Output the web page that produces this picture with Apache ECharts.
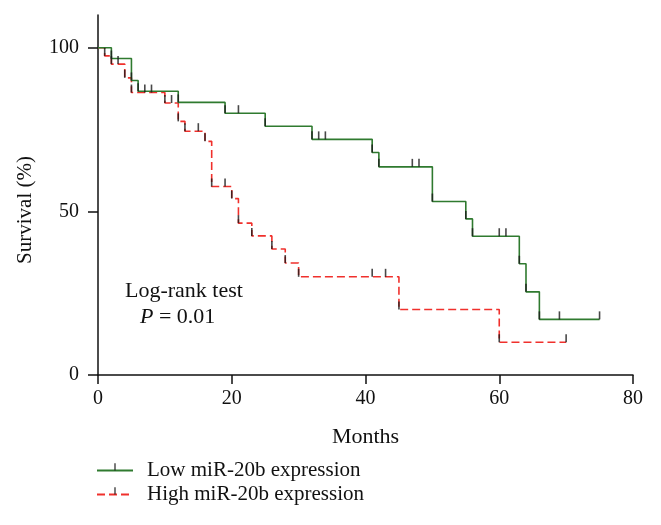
<!DOCTYPE html>
<html>
<head>
<meta charset="utf-8">
<script src="https://cdn.jsdelivr.net/npm/echarts@6/dist/echarts.min.js"></script>
<style>
html,body{margin:0;padding:0;background:#fff;}
#chart{width:661px;height:525px;}
</style>
</head>
<body>
<div id="chart"></div>
<script>
// ---- data ----
const lowName = 'Low miR-20b expression';
const highName = 'High miR-20b expression';
const lowTimes = [0, 2, 5, 6, 12, 19, 25, 32, 41, 42, 50, 55, 56, 63, 64, 66, 75];
const lowSurv  = [100, 96.7, 90.0, 86.7, 83.3, 80.0, 76.0, 72.0, 68.0, 63.6, 53.0, 47.7, 42.4, 34.0, 25.4, 17.0, 17.0];
const lowCensor = [21, 33, 34, 47, 48, 60, 61, 69, 75];
const highTimes = [0, 1, 2, 4, 5, 10, 12, 13, 16, 17, 20, 21, 23, 26, 28, 30, 45, 60, 70];
const highSurv  = [100, 97.5, 95.0, 90.8, 86.3, 83.1, 77.5, 74.5, 71.4, 57.6, 53.9, 46.4, 42.5, 38.5, 34.2, 30.0, 20.0, 10.0, 10.0];
const highCensor = [3, 7, 8, 11, 15, 19, 41, 43, 70];
const xTicks = [0, 20, 40, 60, 80];
const yTicks = [0, 50, 100];

const FONT = 'Liberation Serif';
const GREEN = '#2f7a2f';
const RED = '#f0302c';
const TICKC = '#1a1a1a';

function levelAt(times, surv, t) {
  let v = surv[0];
  for (let i = 0; i < times.length; i++) { if (times[i] <= t) v = surv[i]; }
  return v;
}
function eventMarks(times, surv, censor) {
  const ev = times.slice(1, times.length - 1).concat(censor);
  return ev.map(t => [t, levelAt(times, surv, t)]);
}
const lowLine = lowTimes.map((t, i) => [t, lowSurv[i]]);
const highLine = highTimes.map((t, i) => [t, highSurv[i]]);
const tickPath = 'path://M4.6,0h0.8v5h-0.8zM0,0h0.01v0.01zM10,10h-0.01v-0.01z';

const chart = echarts.init(document.getElementById('chart'), null, {renderer: 'canvas'});
chart.setOption({
  animation: false,
  backgroundColor: '#fff',
  textStyle: {fontFamily: FONT},
  grid: {left: 98, right: 28, top: 15, bottom: 150},
  xAxis: {
    type: 'value', min: 0, max: 80, interval: 20,
    name: 'Months', nameLocation: 'middle', nameGap: 51,
    nameTextStyle: {fontFamily: FONT, fontSize: 22, color: '#111'},
    axisLine: {lineStyle: {color: '#111', width: 1.5}},
    axisTick: {show: true, length: 9, inside: false, lineStyle: {color: '#111', width: 1.5}, customValues: xTicks},
    axisLabel: {fontFamily: FONT, fontSize: 20, color: '#111', margin: 14, customValues: xTicks},
    splitLine: {show: false}
  },
  yAxis: {
    type: 'value', min: 0, max: 110,
    axisLine: {show: true, lineStyle: {color: '#111', width: 1.5}},
    axisTick: {show: true, length: 10, lineStyle: {color: '#111', width: 1.5}, customValues: yTicks},
    axisLabel: {fontFamily: FONT, fontSize: 20, color: '#111', margin: 19, customValues: yTicks},
    splitLine: {show: false}
  },
  legend: {
    data: [lowName, highName],
    orient: 'vertical', left: 91, top: 455,
    itemWidth: 36, itemHeight: 18, itemGap: 3,
    textStyle: {fontFamily: FONT, fontSize: 21, color: '#111', padding: [0, 0, 0, 9]}
  },
  graphic: [
    {type: 'text', x: 25, y: 210, rotation: Math.PI / 2,
      style: {text: 'Survival (%)', fontFamily: FONT, fontSize: 21, fill: '#111', align: 'center', verticalAlign: 'middle'}},
    {type: 'text', left: 125, top: 280, style: {text: 'Log-rank test', fontFamily: FONT, fontSize: 22, fill: '#111'}},
    {type: 'text', left: 140, top: 306, style: {text: '{i|P} = 0.01', fontFamily: FONT, fontSize: 22, fill: '#111',
      rich: {i: {fontStyle: 'italic', fontFamily: FONT, fontSize: 22, fill: '#111'}}}}
  ],
  series: [
    {
      name: lowName, type: 'line', step: 'end', data: lowLine,
      showSymbol: false, symbol: tickPath, symbolSize: 12,
      itemStyle: {color: TICKC},
      lineStyle: {color: GREEN, width: 1.6},
      z: 3
    },
    {
      name: highName, type: 'line', step: 'end', data: highLine,
      showSymbol: false, symbol: tickPath, symbolSize: 12,
      itemStyle: {color: TICKC},
      lineStyle: {color: RED, width: 1.6, type: [8, 4]},
      z: 2
    },
    {
      name: 'lowTicks', type: 'scatter', data: eventMarks(lowTimes, lowSurv, lowCensor),
      symbol: 'rect', symbolSize: [1.6, 8], symbolOffset: [0, -4],
      itemStyle: {color: TICKC}, z: 4, silent: true
    },
    {
      name: 'highTicks', type: 'scatter', data: eventMarks(highTimes, highSurv, highCensor),
      symbol: 'rect', symbolSize: [1.6, 8], symbolOffset: [0, -4],
      itemStyle: {color: TICKC}, z: 4, silent: true
    }
  ]
});
</script>
</body>
</html>
